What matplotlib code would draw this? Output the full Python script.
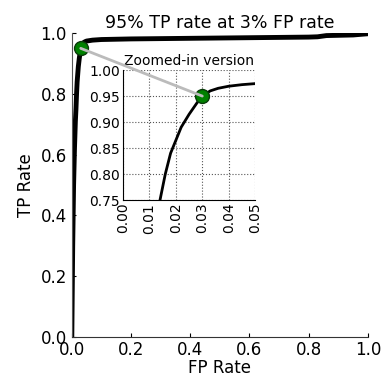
import matplotlib
matplotlib.use("Agg")
import matplotlib.pyplot as plt

# ROC curve points
fpr = [0.0, 0.001, 0.003, 0.006, 0.009, 0.012, 0.014, 0.016, 0.018, 0.020, 0.022,
       0.025, 0.028, 0.030, 0.033, 0.036, 0.040, 0.045, 0.050, 0.07, 0.10, 0.20,
       0.30, 0.40, 0.50, 0.60, 0.70, 0.80, 0.83, 0.86, 0.95, 1.0]
tpr = [0.0, 0.10, 0.30, 0.50, 0.62, 0.71, 0.75, 0.80, 0.84, 0.865, 0.89,
       0.915, 0.937, 0.950, 0.960, 0.965, 0.969, 0.972, 0.974, 0.977, 0.979, 0.981,
       0.982, 0.983, 0.984, 0.985, 0.986, 0.987, 0.988, 0.992, 0.994, 0.998]
op_fpr, op_tpr = 0.03, 0.95
inset_xticks = [0.00, 0.01, 0.02, 0.03, 0.04, 0.05]
inset_yticks = [0.75, 0.80, 0.85, 0.90, 0.95, 1.00]

fig = plt.figure(figsize=(3.82, 3.81), dpi=100)
ax = fig.add_axes([0.188, 0.1155, 0.775, 0.7975])
ax.plot(fpr, tpr, color="black", lw=3.5)
ax.plot(op_fpr, op_tpr, "o", color="green", mec="#0a3a0a", ms=10, zorder=5)
ax.set_xlim(0, 1)
ax.set_ylim(0, 1)
ax.set_xlabel("FP Rate", fontsize=12, labelpad=0)
ax.set_ylabel("TP Rate", fontsize=12, labelpad=4)
ax.set_title("95% TP rate at 3% FP rate", fontsize=12.5, pad=4)
ax.spines["top"].set_visible(False)
ax.spines["right"].set_visible(False)
ax.spines["left"].set_color("#555555")
ax.spines["bottom"].set_color("#333333")
ax.tick_params(direction="in", labelsize=12, length=3, top=False, right=False)
ax.tick_params(axis="x", pad=3)

ins = fig.add_axes([0.322, 0.475, 0.346, 0.341])
ins.plot(fpr, tpr, color="black", lw=2)
ins.plot(op_fpr, op_tpr, "o", color="green", mec="#0a3a0a", ms=10, zorder=5)
ins.set_xlim(0, 0.05)
ins.set_ylim(0.75, 1.0)
ins.set_xticks(inset_xticks)
ins.set_yticks(inset_yticks)
ins.set_xticklabels([f"{v:.2f}" for v in inset_xticks], rotation=90)
ins.set_yticklabels([f"{v:.2f}" for v in inset_yticks])
ins.grid(True, ls=":", color="#555555", lw=0.8)
ins.spines["top"].set_visible(False)
ins.spines["right"].set_visible(False)
ins.tick_params(direction="in", labelsize=10, length=0, pad=2)
ins.set_title("Zoomed-in version", fontsize=10, pad=4)

# connector line from main point to inset point
fig.add_artist(matplotlib.patches.ConnectionPatch(
    xyA=(op_fpr, op_tpr), coordsA=ax.transData,
    xyB=(op_fpr, op_tpr), coordsB=ins.transData,
    color="#bbbbbb", lw=2, zorder=1))

fig.savefig("out.png", dpi=100)
